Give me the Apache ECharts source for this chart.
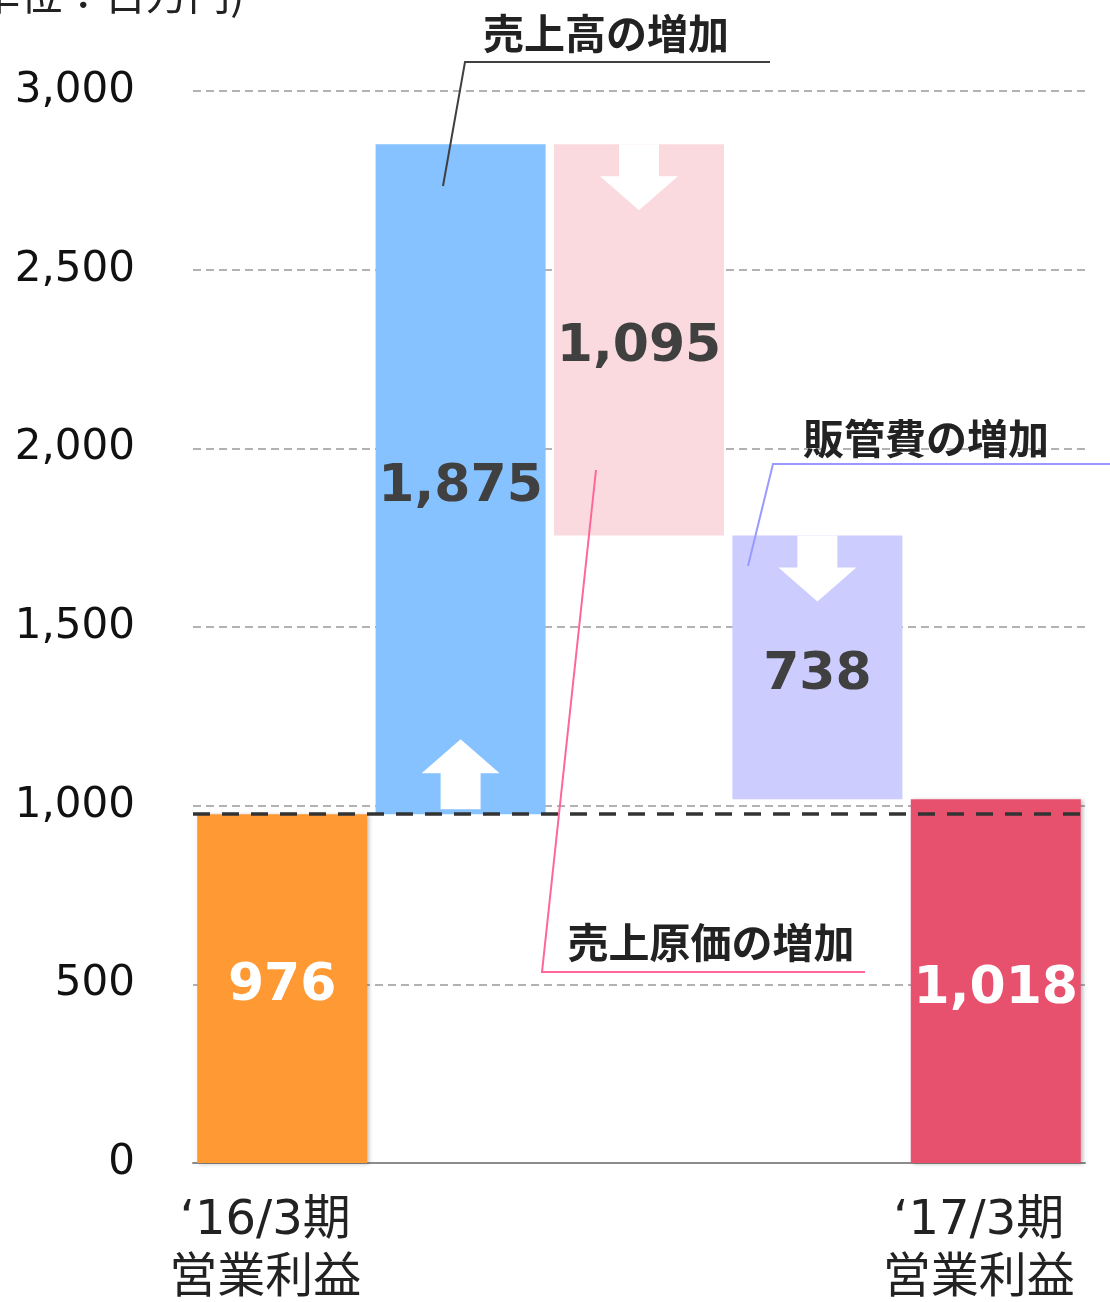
<!DOCTYPE html>
<html>
<head>
<meta charset="utf-8">
<script src="https://cdn.jsdelivr.net/npm/echarts@6/dist/echarts.min.js"></script>
<style>
  html, body { margin: 0; padding: 0; background: #fff; }
  #chart { width: 1110px; height: 1302px; }
</style>
</head>
<body>
<div id="chart"></div>
<script>
  // 営業利益の増減（単位：百万円）
  const categories = ['\u201816/3期\n営業利益', '', '', '', '\u201817/3期\n営業利益']
  const steps = [976, 1875, -1095, -738, 1018]
  const kinds = ['total', 'up', 'down', 'down', 'total']
  const barColors = ['#FF9933', '#85C2FF', '#FADADF', '#CCCCFF', '#E8516E']
  const labelColors = ['#ffffff', '#404040', '#404040', '#404040', '#ffffff']
  const yMin = 0
  const yMax = 3000
  const yStep = 500

  // 透明な土台と見える部分を計算
  let base = []
  let height = []
  let running = 0
  steps.forEach((v, i) => {
    if (kinds[i] === 'total') {
      base.push(0)
      height.push(v)
      running = v
    } else if (v >= 0) {
      base.push(running)
      height.push(v)
      running += v
    } else {
      running += v
      base.push(running)
      height.push(-v)
    }
  })

  const font = '"DejaVu Sans", "Noto Sans CJK JP", sans-serif'
  const fmt = v => Number(v).toLocaleString('en-US')

  let myChart = echarts.init(document.getElementById('chart'))
  const option = {
    animation: false,
    grid: { left: 193, right: 25, top: 91, bottom: 139, containLabel: false, outerBoundsMode: 'none' },
    xAxis: {
      type: 'category',
      data: categories,
      axisLine: { lineStyle: { color: '#8c8c8c', width: 2 } },
      axisTick: { show: false },
      axisLabel: {
        interval: 0,
        color: '#222',
        fontSize: 48,
        lineHeight: 58,
        margin: 30,
        padding: [0, 34, 0, 0],
        fontFamily: font
      }
    },
    yAxis: {
      type: 'value',
      min: yMin,
      max: yMax,
      interval: yStep,
      axisLine: { show: false },
      axisTick: { show: false },
      axisLabel: {
        color: '#111',
        fontSize: 42,
        margin: 58,
        fontFamily: font,
        formatter: fmt
      },
      splitLine: {
        show: true,
        lineStyle: { color: '#999', width: 1.5, type: [8, 5] }
      }
    },
    series: [
      {
        name: 'base',
        type: 'bar',
        stack: 'w',
        barWidth: 170,
        itemStyle: { color: 'transparent' },
        emphasis: { disabled: true },
        data: base
      },
      {
        name: 'value',
        type: 'bar',
        stack: 'w',
        barWidth: 170,
        z: 3,
        data: height.map((h, i) => ({
          value: h,
          itemStyle: {
            color: barColors[i],
            shadowColor: kinds[i] === 'total' ? 'rgba(0,0,0,0.25)' : 'rgba(0,0,0,0)',
            shadowBlur: 4,
            shadowOffsetX: 2,
            shadowOffsetY: 1
          },
          label: { color: labelColors[i], offset: [0, i === 0 ? -2 : 8] }
        })),
        label: {
          show: true,
          position: 'inside',
          fontSize: 52,
          fontWeight: 'bold',
          fontFamily: font,
          formatter: p => fmt(p.value)
        },
        markLine: {
          silent: true,
          symbol: 'none',
          label: { show: false },
          lineStyle: { color: '#333', width: 3.5, type: [17, 12] },
          data: [{ yAxis: steps[0] }],
          z: 10
        }
      }
    ]
  }
  myChart.setOption(option)

  // 矢印（バーの位置から算出）と注記
  let graphics = []
  kinds.forEach((k, i) => {
    if (k === 'total') return
    const top = myChart.convertToPixel({ xAxisIndex: 0, yAxisIndex: 0 }, [i, base[i] + height[i]])
    const bot = myChart.convertToPixel({ xAxisIndex: 0, yAxisIndex: 0 }, [i, base[i]])
    const cx = top[0]
    let pts
    if (k === 'up') {
      const b = bot[1] - 5
      pts = [[cx - 20, b], [cx - 20, b - 36], [cx - 39, b - 36], [cx, b - 70],
             [cx + 39, b - 36], [cx + 20, b - 36], [cx + 20, b]]
    } else {
      const t = top[1]
      pts = [[cx - 20, t], [cx + 20, t], [cx + 20, t + 32], [cx + 39, t + 32],
             [cx, t + 66], [cx - 39, t + 32], [cx - 20, t + 32]]
    }
    graphics.push({ type: 'polygon', z: 20, shape: { points: pts }, style: { fill: '#ffffff' } })
  })

  const notes = [
    { text: '売上高の増加', x: 606, y: 33, color: '#404040', pts: [[770, 62], [465, 62], [443, 186]] },
    { text: '販管費の増加', x: 926, y: 438, color: '#9999ff', pts: [[1110, 464], [773, 464], [748, 566]] },
    { text: '売上原価の増加', x: 711, y: 942, color: '#ff6699', pts: [[865, 972], [542, 972], [596, 470]] }
  ]
  notes.forEach(n => {
    graphics.push({
      type: 'polyline', z: 30,
      shape: { points: n.pts },
      style: { stroke: n.color, lineWidth: 2, fill: null }
    })
    graphics.push({
      type: 'text', z: 31, x: n.x, y: n.y,
      style: {
        text: n.text, fill: '#222', font: 'bold 41px "Noto Sans CJK JP", sans-serif',
        textAlign: 'center', textVerticalAlign: 'middle'
      }
    })
  })
  graphics.push({
    type: 'text', z: 31, x: -36, y: -27,
    style: {
      text: '(単位：百万円)', fill: '#222', font: '42px "Noto Sans CJK JP", sans-serif',
      textAlign: 'left', textVerticalAlign: 'top'
    }
  })
  myChart.setOption({ graphic: graphics })

  window.addEventListener('resize', function () {
    myChart.resize()
  })
</script>
</body>
</html>
